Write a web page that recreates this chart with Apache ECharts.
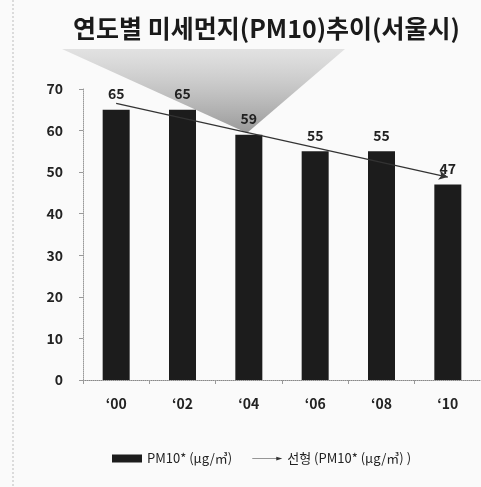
<!DOCTYPE html>
<html>
<head>
<meta charset="utf-8">
<script src="https://cdn.jsdelivr.net/npm/echarts@6/dist/echarts.min.js"></script>
<style>html,body{margin:0;padding:0;background:#fafafa;}#c{width:481px;height:487px;}</style>
</head>
<body>
<div id="c"></div>
<script>
var categories = ["\u201800", "\u201802", "\u201804", "\u201806", "\u201808", "\u201810"];
var pm10 = [65, 65, 59, 55, 55, 47];
var yTicks = [0, 10, 20, 30, 40, 50, 60, 70];
var titleText = "연도별 미세먼지(PM10)추이(서울시)";
var barName = "PM10* (μg/㎥)";
var trendName = "선형 (PM10* (μg/㎥) )";

// least-squares linear trend from the data
var n = pm10.length, sx = 0, sy = 0, sxy = 0, sxx = 0;
for (var i = 0; i < n; i++) { sx += i; sy += pm10[i]; sxy += i * pm10[i]; sxx += i * i; }
var slope = (n * sxy - sx * sy) / (n * sxx - sx * sx);
var intercept = (sy - slope * sx) / n;
var t0 = intercept, t1 = intercept + slope * (n - 1);

var font = "'Noto Sans CJK KR', 'Noto Sans', sans-serif";
var chart = echarts.init(document.getElementById('c'), null, {renderer: 'canvas'});
chart.setOption({
  backgroundColor: '#fafafa',
  animation: false,
  title: {
    text: titleText, left: 68, top: 11,
    textStyle: {fontFamily: font, fontSize: 25, fontWeight: 'bold', color: '#1a1a1a'}
  },
  graphic: [
    {type: 'polygon', z: 0, shape: {points: [[62, 49], [345, 49], [247, 133]]},
     style: {fill: new echarts.graphic.LinearGradient(0, 0, 0, 1, [
       {offset: 0, color: 'rgba(170,170,170,0.3)'},
       {offset: 1, color: 'rgba(100,100,100,0.65)'}])}},
    {type: 'line', z: 0, shape: {x1: 13, y1: 0, x2: 13, y2: 487},
     style: {stroke: '#bbb', lineWidth: 1, lineDash: [2, 2]}}
  ],
  grid: {left: 83, top: 89, width: 408, height: 291},
  legend: {
    left: 107, top: 447, itemGap: 20, itemWidth: 30, itemHeight: 8,
    textStyle: {fontFamily: font, fontSize: 13, color: '#222'},
    data: [
      {name: barName, icon: 'rect'},
      {name: trendName, icon: 'path://M0,3.6 L32,3.6 L32,1.5 L40,4 L32,6.5 L32,4.4 L0,4.4 Z', itemStyle: {color: '#333'}}
    ]
  },
  xAxis: {
    type: 'category', data: categories,
    axisLine: {lineStyle: {color: '#888', type: 'dotted'}},
    axisTick: {show: true, length: 4, lineStyle: {color: '#999'}},
    axisLabel: {fontFamily: font, fontSize: 14, fontWeight: 'bold', color: '#222', margin: 17}
  },
  yAxis: {
    type: 'value', min: 0, max: 70, interval: 10,
    axisLine: {show: true, lineStyle: {color: '#999', type: 'dotted'}},
    axisTick: {show: true, length: 4, lineStyle: {color: '#999'}},
    splitLine: {show: false},
    axisLabel: {fontFamily: font, fontSize: 14, fontWeight: 'bold', color: '#222', margin: 20,
      formatter: function (v) { return yTicks.indexOf(v) >= 0 ? String(v) : ''; }}
  },
  series: [
    {
      name: barName, type: 'bar', data: pm10, barWidth: 27, z: 3,
      itemStyle: {color: '#1c1c1c'},
      label: {show: true, position: 'top', distance: 9, fontFamily: font, fontSize: 14, fontWeight: 'bold', color: '#222'}
    },
    {
      name: trendName, type: 'line', data: [], z: 4,
      itemStyle: {color: '#333'},
      markLine: {
        silent: true, symbol: ['none', 'arrow'], symbolSize: [7, 9],
        label: {show: false},
        lineStyle: {color: '#333', width: 1.2, type: 'solid'},
        data: [[{coord: [0, t0]}, {coord: [n - 1, t1]}]]
      }
    }
  ]
});
</script>
</body>
</html>
